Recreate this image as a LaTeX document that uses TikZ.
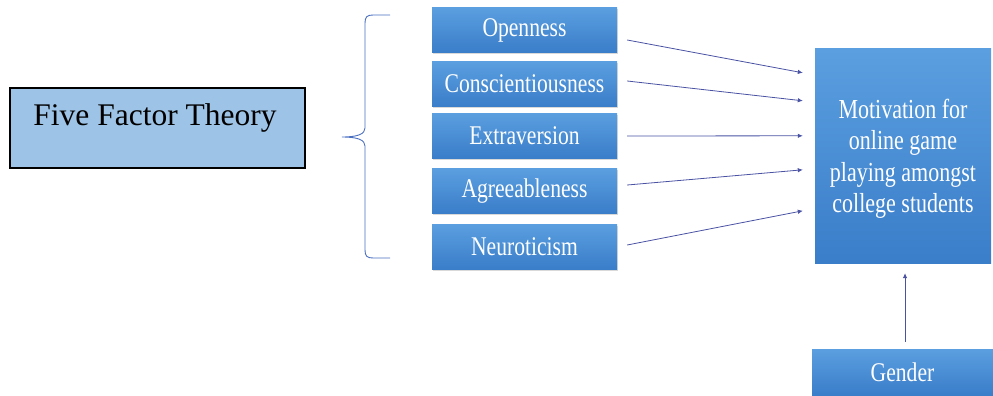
\documentclass[tikz,border=0pt]{standalone}
\usepackage{fontspec}
\setmainfont{Liberation Serif}
\newfontfamily\narrowserif[FakeStretch=0.8]{Liberation Serif}
\usetikzlibrary{calc,shadows,arrows.meta}
\definecolor{boxtop}{HTML}{5B9FE0}
\definecolor{boxbot}{HTML}{3A7DC9}
\definecolor{ffill}{HTML}{9DC3E6}
\definecolor{arrowcol}{HTML}{4A52A3}
\definecolor{bracecol}{HTML}{4A6FC0}
\tikzset{
  trait/.style={draw=none, top color=boxtop, bottom color=boxbot, minimum width=185pt, minimum height=45pt,
    inner sep=0pt, text=white, font=\narrowserif\fontsize{27}{31}\selectfont,
    drop shadow={opacity=0.3, shadow xshift=1pt, shadow yshift=-1.5pt}},
  bigbox/.style={draw=none, top color=boxtop, bottom color=boxbot, minimum width=176pt, minimum height=214pt,
    inner sep=0pt},
  bigtext/.style={inner sep=0pt, text=white, align=center, font=\narrowserif\fontsize{27.5}{31.5}\selectfont},
  conn/.style={draw=arrowcol, line width=0.8pt, -{Latex[length=5pt,width=4.5pt]}},
}
\begin{document}
\begin{tikzpicture}[x=1pt,y=-1pt]
\useasboundingbox (0,0) rectangle (993,396);
% Five factor box
\node[draw=black, line width=2pt, fill=ffill, minimum width=295pt, minimum height=80pt, inner sep=0pt] (ff) at (157,127.5) {};
\node[font=\fontsize{31.5}{36}\selectfont, inner sep=0pt] (fftext) at (155,118) {Five Factor Theory};
% brace
\draw[bracecol, line width=0.9pt] (390,15) -- (373,15) .. controls (367,15) and (365,17) .. (365,23)
  -- (365,128) .. controls (365,134) and (358,137) .. (342,137)
  .. controls (358,137) and (365,140) .. (365,146)
  -- (365,250) .. controls (365,256) and (367,258) .. (373,258) -- (390,258);
% traits
\node[trait] (o) at (524.5,30) {Openness};
\node[trait] (c) at (524.5,84) {Conscientiousness};
\node[trait] (e) at (524.5,135.5) {Extraversion};
\node[trait] (a) at (524.5,191) {Agreeableness};
\node[trait] (n) at (524.5,246.5) {Neuroticism};
% big box
\node[bigbox] (mb) at (903,156) {};
\node[bigtext] (m) at (903,159) {Motivation for\\online game\\playing amongst\\college students};
% gender
\node[trait, minimum width=181pt, minimum height=46pt, drop shadow={opacity=0}] (g) at (902.5,372) {Gender};
% connectors
\coordinate (m1) at ($(mb.north west)+(-12,24)$);
\coordinate (m2) at ($(mb.north west)+(-12,52)$);
\coordinate (m3) at ($(mb.north west)+(-12,87)$);
\coordinate (m4) at ($(mb.north west)+(-12,121)$);
\coordinate (m5) at ($(mb.north west)+(-12,162)$);
\draw[conn] ($(o.east)+(10,10)$) -- (m1);
\draw[conn] ($(c.east)+(10,-3)$) -- (m2);
\draw[conn] ($(e.east)+(10,0.5)$) -- (m3);
\draw[conn] ($(a.east)+(10,-6)$) -- (m4);
\draw[conn] ($(n.east)+(10,-1.5)$) -- (m5);
\draw[conn] ($(g.north)+(2.5,-7)$) -- ($(mb.south)+(2,10)$);
\end{tikzpicture}
\end{document}
